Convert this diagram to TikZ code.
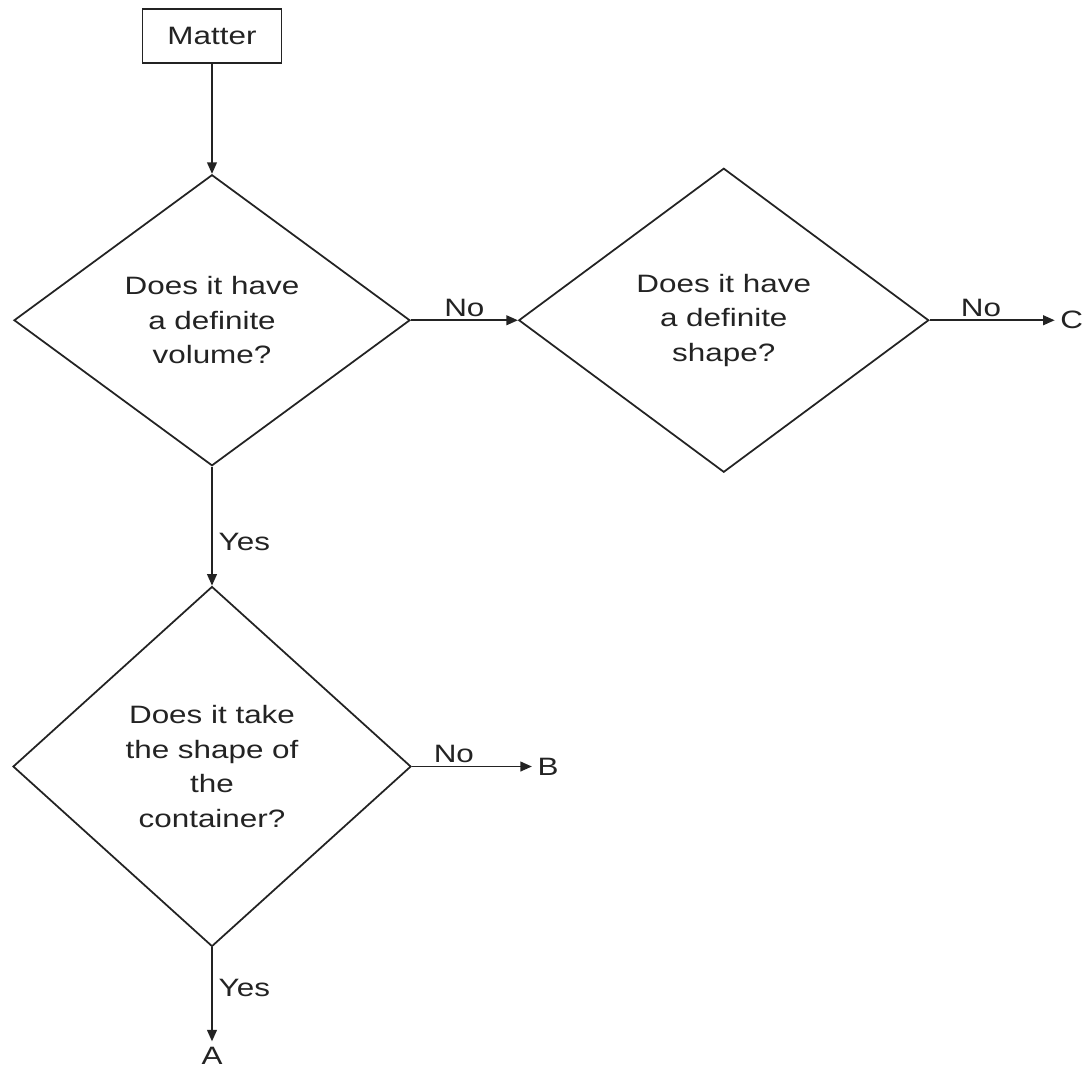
\documentclass[tikz,border=0pt]{standalone}
\usepackage{fontspec}
\setmainfont{Liberation Sans}[FakeStretch=1.25]
\usepackage{tikz}
\usetikzlibrary{shapes.geometric, arrows.meta, positioning}
\definecolor{InkGray}{RGB}{35, 35, 35}

\begin{document}
\begin{tikzpicture}[
    node distance=2.2cm and 2.14cm,
    every node/.style={font=\fontsize{14.3}{19.6}\selectfont, text=InkGray},
    box/.style={draw=InkGray, rectangle, line width=1pt, align=center, minimum width=2.78cm, minimum height=1.08cm, inner sep=0pt},
    decision/.style={draw=InkGray, diamond, line width=1pt, align=center, inner sep=0pt},
    endpt/.style={inner sep=3pt},
    lbl/.style={inner sep=1.5pt},
    arrow/.style={-{Triangle[length=6.5pt, width=5.5pt]}, line width=1pt, draw=InkGray}
]
\useasboundingbox (0,0) rectangle (21.66,-21.4);

\node (matter) [box] at (4.24,-0.72) {Matter};
\node (volume) [decision, minimum width=7.92cm, minimum height=5.82cm, below=of matter] {Does it have\\a definite\\volume?};
\node (shape) [decision, minimum width=8.2cm, minimum height=6.08cm, right=of volume] {Does it have\\a definite\\shape?};
\node (container) [decision, minimum width=7.96cm, minimum height=7.2cm, below=2.38cm of volume] {Does it take\\the shape of\\the\\container?};
\node (endC) [endpt, right=2.5cm of shape] {C};
\node (endB) [endpt, right=2.4cm of container] {B};
\node (endA) [endpt, below=1.88cm of container] {A};

\draw [arrow] (matter) -- (volume);
\draw [arrow] (volume) -- node[lbl, above] {No} (shape);
\draw [arrow] (shape) -- node[lbl, above, pos=0.41] {No} (endC);
\draw [arrow] (volume) -- node[right, pos=0.63] {Yes} (container);
\draw [arrow] (container) -- node[lbl, above, pos=0.35] {No} (endB);
\draw [arrow] (container) -- node[right, pos=0.43] {Yes} (endA);

\end{tikzpicture}
\end{document}
